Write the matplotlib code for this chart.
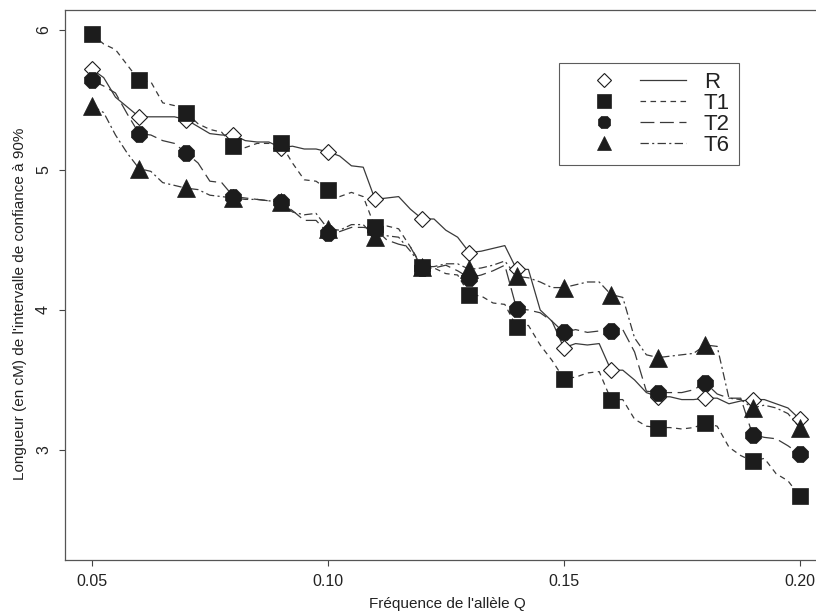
import matplotlib
matplotlib.use("Agg")
import matplotlib.pyplot as plt
import numpy as np
from matplotlib.lines import Line2D
from matplotlib.legend_handler import HandlerBase

# allele frequency grid (curves are sampled every 0.0025, markers every 0.01)
freq = np.linspace(0.05, 0.20, 61)
marker_freq = [0.05, 0.06, 0.07, 0.08, 0.09, 0.10, 0.11, 0.12,
               0.13, 0.14, 0.15, 0.16, 0.17, 0.18, 0.19, 0.20]

# interval length (cM)
R = [5.72, 5.66, 5.52, 5.45,
     5.38, 5.38, 5.38, 5.38,
     5.36, 5.31, 5.26, 5.25,
     5.25, 5.21, 5.20, 5.20,
     5.16, 5.17, 5.15, 5.15,
     5.13, 5.10, 5.03, 5.02,
     4.79, 4.80, 4.81, 4.72,
     4.65, 4.65, 4.57, 4.52,
     4.41, 4.42, 4.44, 4.46,
     4.29, 4.29, 4.00, 3.92,
     3.73, 3.76, 3.75, 3.76,
     3.57, 3.57, 3.50, 3.41,
     3.38, 3.38, 3.36, 3.36,
     3.37, 3.37, 3.33, 3.35,
     3.36, 3.36, 3.33, 3.30,
     3.22]

T1 = [5.97, 5.90, 5.86, 5.75,
      5.64, 5.63, 5.48, 5.46,
      5.41, 5.33, 5.29, 5.27,
      5.17, 5.16, 5.19, 5.19,
      5.19, 5.05, 4.93, 4.92,
      4.86, 4.81, 4.84, 4.81,
      4.59, 4.60, 4.58, 4.45,
      4.31, 4.30, 4.26, 4.25,
      4.11, 4.10, 4.05, 4.04,
      3.88, 3.89, 3.75, 3.64,
      3.51, 3.52, 3.55, 3.56,
      3.36, 3.36, 3.22, 3.17,
      3.16, 3.16, 3.15, 3.16,
      3.19, 3.17, 3.02, 2.96,
      2.92, 2.94, 2.83, 2.78,
      2.67]

T2 = [5.64, 5.60, 5.55, 5.40,
      5.26, 5.25, 5.21, 5.19,
      5.12, 5.05, 4.92, 4.91,
      4.81, 4.80, 4.79, 4.78,
      4.77, 4.71, 4.64, 4.64,
      4.55, 4.56, 4.59, 4.59,
      4.58, 4.50, 4.47, 4.45,
      4.30, 4.30, 4.32, 4.28,
      4.23, 4.25, 4.28, 4.32,
      4.01, 4.00, 3.98, 3.92,
      3.84, 3.86, 3.84, 3.85,
      3.85, 3.86, 3.70, 3.42,
      3.41, 3.41, 3.41, 3.43,
      3.48, 3.40, 3.37, 3.37,
      3.11, 3.09, 3.08, 3.03,
      2.97]

T6 = [5.46, 5.41, 5.25, 5.12,
      5.01, 4.99, 4.91, 4.89,
      4.87, 4.86, 4.82, 4.81,
      4.80, 4.79, 4.79, 4.78,
      4.77, 4.70, 4.68, 4.69,
      4.58, 4.57, 4.61, 4.61,
      4.52, 4.53, 4.52, 4.42,
      4.31, 4.31, 4.33, 4.33,
      4.29, 4.30, 4.32, 4.35,
      4.24, 4.23, 4.20, 4.16,
      4.16, 4.18, 4.20, 4.20,
      4.11, 4.09, 3.80, 3.68,
      3.66, 3.67, 3.68, 3.69,
      3.75, 3.74, 3.37, 3.36,
      3.30, 3.32, 3.30, 3.26,
      3.16]

labels = ["R", "T1", "T2", "T6"]
x_ticks = [0.05, 0.10, 0.15, 0.20]
y_ticks = [3, 4, 5, 6]


class MarkerThenLine(HandlerBase):
    # legend entry: symbol on the left, line sample on the right
    def create_artists(self, legend, orig_handle, xdescent, ydescent,
                       width, height, fontsize, trans):
        mk, ln = orig_handle
        yc = height / 2 - ydescent
        a = Line2D([width * 0.30 - xdescent], [yc])
        a.update_from(mk)
        b = Line2D([width * 0.61 - xdescent, width - xdescent], [yc, yc])
        b.update_from(ln)
        a.set_transform(trans)
        b.set_transform(trans)
        return [a, b]


plt.rcParams['font.family'] = ['Liberation Sans', 'DejaVu Sans']
plt.rcParams['lines.scale_dashes'] = False

line_col = '#3a3a3a'
mark_col = '#1c1c1c'

styles = {
    "R":  dict(ls='-', marker='D', ms=8.5, mfc='white', mec=mark_col, mew=0.8),
    "T1": dict(ls=(0, (4.0, 3.2)), marker='s', ms=12, mfc=mark_col, mec=mark_col, mew=0.5),
    "T2": dict(ls=(0, (10.0, 4.0)), marker='8', ms=12.5, mfc=mark_col, mec=mark_col, mew=0.5),
    "T6": dict(ls=(0, (6.0, 2.4, 1.5, 2.4)), marker='^', ms=12.5, mfc=mark_col, mec=mark_col, mew=0.5),
}

fig = plt.figure(figsize=(8.16, 6.11), dpi=100)
ax = fig.add_axes([65 / 816, 51 / 611, 764 / 816, 550 / 611])

series = {"R": R, "T1": T1, "T2": T2, "T6": T6}
handles = []
for name in labels:
    st = styles[name]
    vals = np.array(series[name])
    ax.plot(freq, vals, color=line_col, lw=0.9, ls=st['ls'], zorder=2)
    ax.plot(marker_freq, vals[::4], ls='none', marker=st['marker'], ms=st['ms'],
            mfc=st['mfc'], mec=st['mec'], mew=st['mew'], zorder=3)
    mk = Line2D([], [], ls='none', marker=st['marker'], ms=st['ms'] * 0.8,
                mfc=st['mfc'], mec=st['mec'], mew=st['mew'])
    ln = Line2D([], [], color=line_col, lw=0.9, ls=st['ls'])
    handles.append((mk, ln))

ax.set_xlim(0.0443, 0.2062)
ax.set_ylim(2.214, 6.143)

ax.set_xticks(x_ticks)
ax.set_xticklabels(["%.2f" % v for v in x_ticks])
ax.set_yticks(y_ticks)
ax.set_yticklabels([str(v) for v in y_ticks], rotation=90, va='center')
ax.tick_params(direction='out', length=4.5, width=0.8, color='#444444',
               labelsize=11.5, pad=5.5, labelcolor='#222222')

for sp in ax.spines.values():
    sp.set_color('#555555')
    sp.set_linewidth(0.9)

ax.set_xlabel("Fréquence de l'allèle Q", fontsize=11, color='#222222', labelpad=6)
ax.set_ylabel("Longueur (en cM) de l'intervalle de confiance à 90%", fontsize=11,
              color='#222222')
ax.yaxis.set_label_coords(-0.05, 0.465)

leg = ax.legend(handles, labels, handler_map={tuple: MarkerThenLine()},
                loc='upper left', bbox_to_anchor=(0.647, 0.904), fontsize=16,
                handlelength=5.3, handletextpad=0.8, labelspacing=0.0,
                borderpad=0.4, borderaxespad=0, fancybox=False, frameon=True)
leg.get_frame().set_edgecolor('#333333')
leg.get_frame().set_linewidth(0.8)
for t in leg.get_texts():
    t.set_color('#222222')

fig.savefig("out.png", dpi=100)
